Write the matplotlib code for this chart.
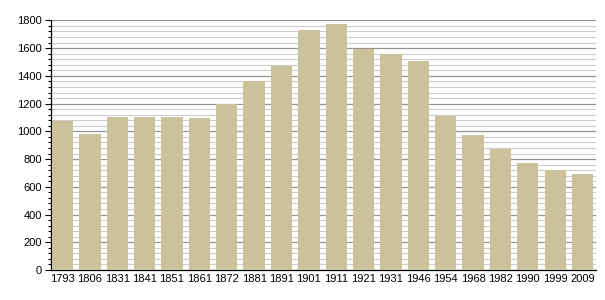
import numpy as np
import matplotlib
matplotlib.use("Agg")
import matplotlib.pyplot as plt
from matplotlib.ticker import MultipleLocator

# population by census year
years = ["1793", "1806", "1831", "1841", "1851", "1861", "1872", "1881", "1891", "1901",
         "1911", "1921", "1931", "1946", "1954", "1968", "1982", "1990", "1999", "2009"]
population = [1078, 980, 1102, 1102, 1102, 1096, 1195, 1361, 1474, 1733,
              1771, 1596, 1555, 1505, 1114, 972, 874, 770, 720, 691]

plt.rcParams['font.family'] = ['Liberation Sans', 'DejaVu Sans']

fig = plt.figure(figsize=(6.05, 3.0), dpi=100)
ax = fig.add_axes([0.0835, 0.1, 0.902, 0.832])

x = np.arange(len(years))
ax.bar(x, population, width=0.78, color="#cbc299", zorder=3)

ax.set_ylim(0, 1800)
ax.set_xlim(-0.44, len(years) - 0.5)
ax.yaxis.set_major_locator(MultipleLocator(200))
ax.yaxis.set_minor_locator(MultipleLocator(40))
ax.grid(axis="y", which="major", color="#939393", linewidth=0.9, zorder=0)
ax.grid(axis="y", which="minor", color="#cccccc", linewidth=0.8, zorder=0)

ax.set_xticks(x)
ax.set_xticklabels(years)
ax.tick_params(axis="x", length=0, labelsize=8, pad=3)
ax.tick_params(axis="y", which="major", length=4, width=0.8, labelsize=8, pad=2)
ax.tick_params(axis="y", which="minor", length=2.5, width=0.8)

for s in ["top", "right"]:
    ax.spines[s].set_visible(False)
ax.spines["left"].set_linewidth(0.9)
ax.spines["bottom"].set_linewidth(0.9)

fig.savefig("out.png", dpi=100)
